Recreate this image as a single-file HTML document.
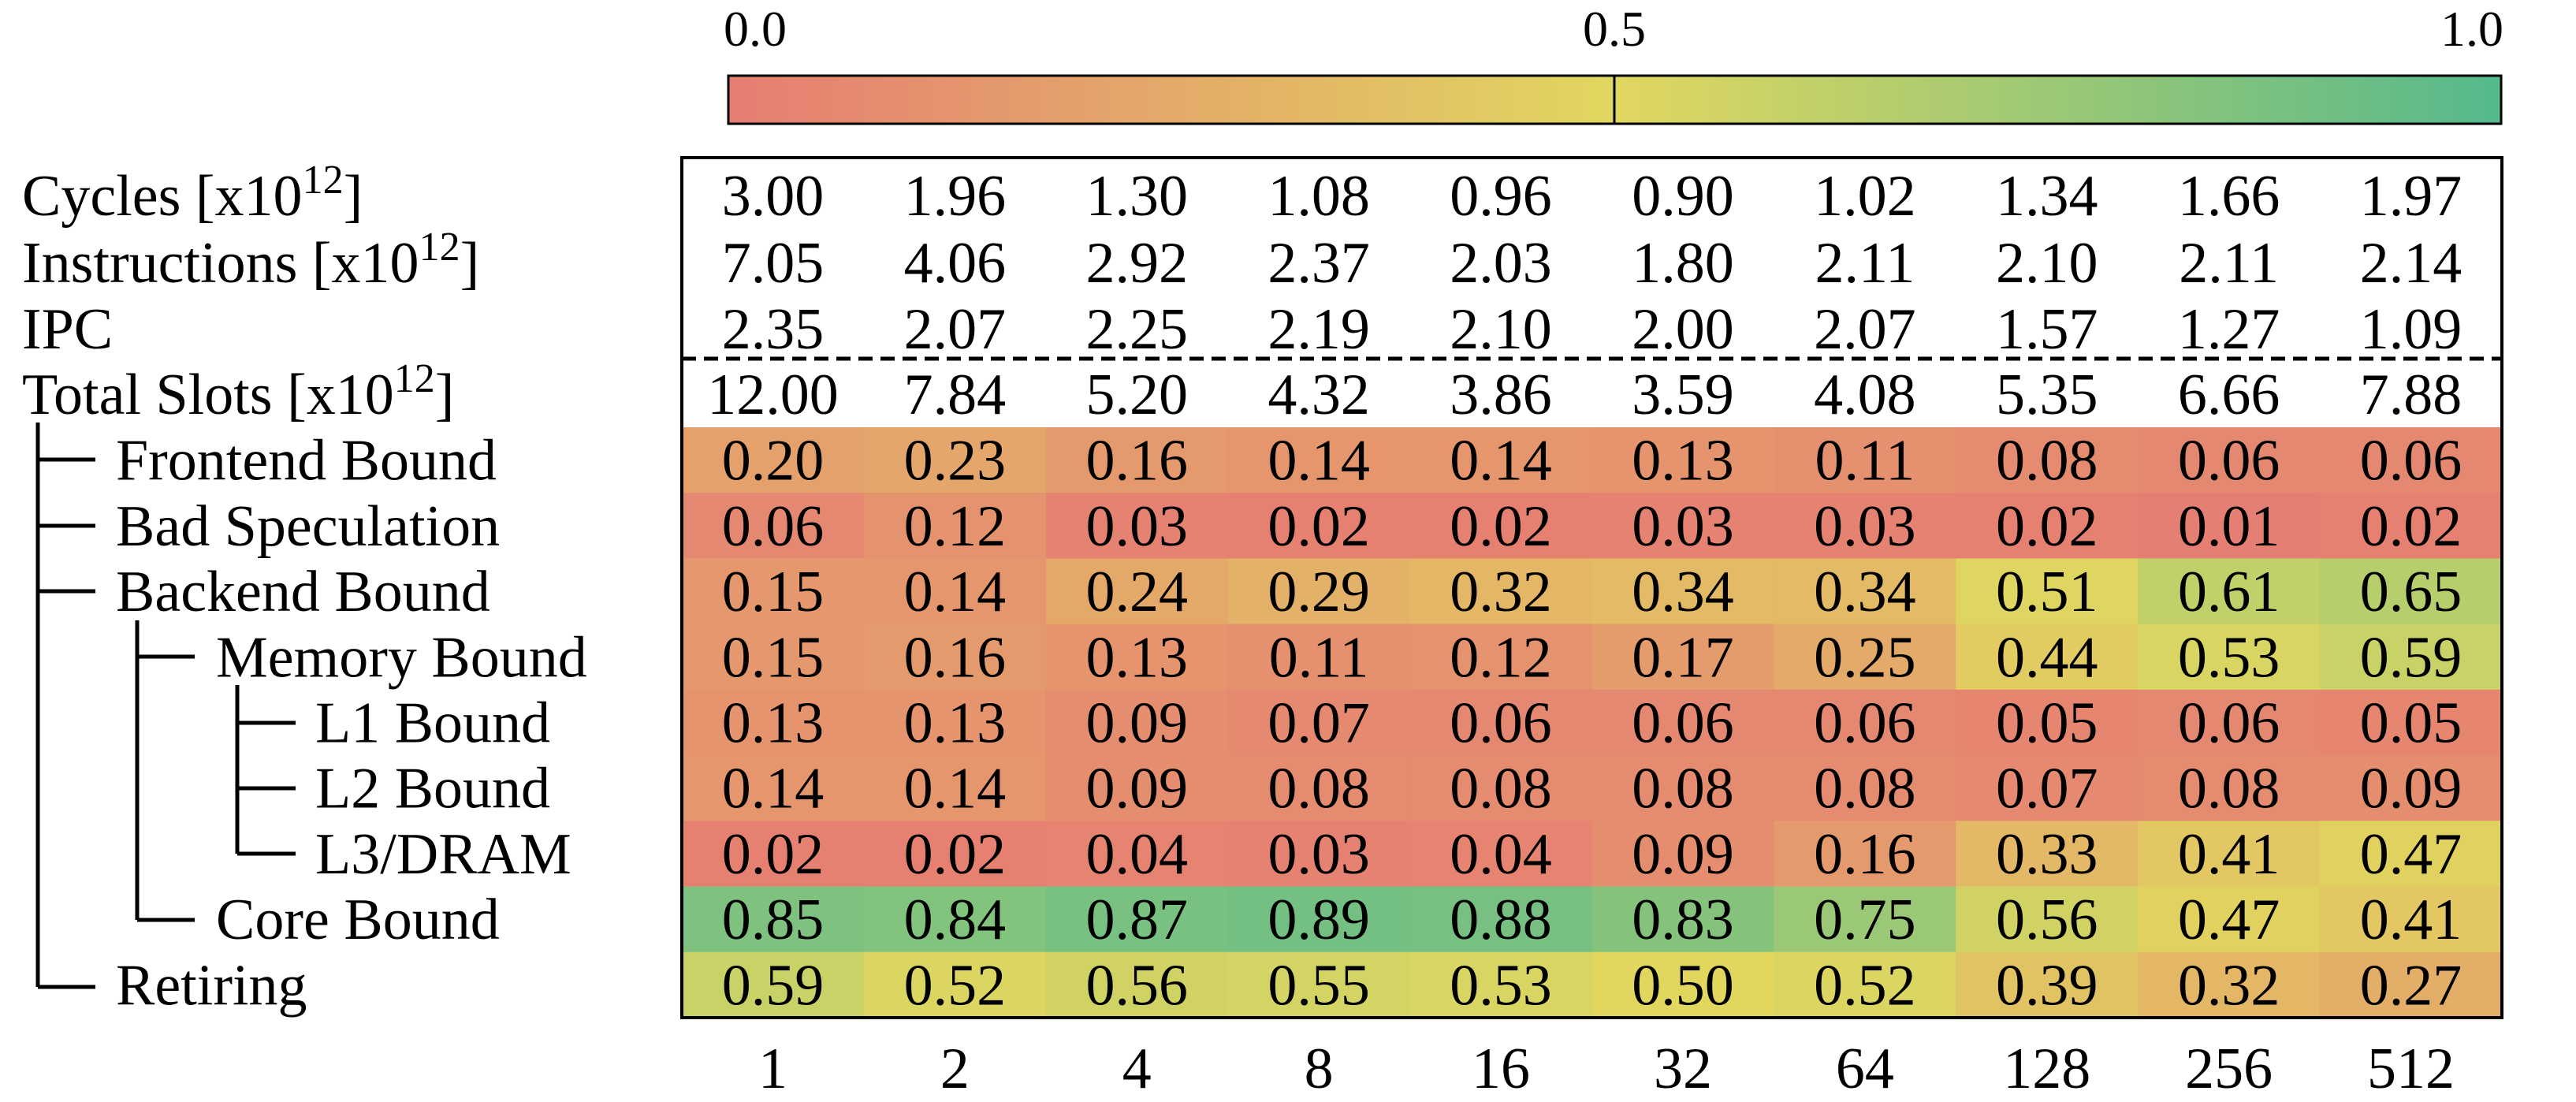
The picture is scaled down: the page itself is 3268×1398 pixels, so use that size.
<!DOCTYPE html>
<html><head><meta charset="utf-8"><style>
html,body{margin:0;padding:0;background:#fff}
svg{display:block}
text{font-family:"Liberation Serif","DejaVu Serif",serif;fill:#000}
</style></head><body>
<svg id="chart" width="3268" height="1398" viewBox="0 0 3268 1398" xmlns="http://www.w3.org/2000/svg">
<defs>
<linearGradient id="cbgrad" x1="0" x2="1" y1="0" y2="0">
<stop offset="0" stop-color="rgb(230,125,115)"/>
<stop offset="0.5" stop-color="rgb(225,215,95)"/>
<stop offset="1" stop-color="rgb(85,185,140)"/>
</linearGradient>
</defs>
<g>
<rect x="924" y="96" width="2249" height="61" fill="url(#cbgrad)" stroke="#000" stroke-width="3"/>
<line x1="2048" y1="96" x2="2048" y2="157" stroke="#000" stroke-width="3"/>
<text x="958" y="58" font-size="64" text-anchor="middle">0.0</text>
<text x="2048" y="58" font-size="64" text-anchor="middle">0.5</text>
<text x="3136" y="58" font-size="64" text-anchor="middle">1.0</text>
</g>
<g id="cells"></g>
<g id="texts"></g>
<g id="labels"></g>
<g stroke="#000" stroke-width="5" fill="none">
<path d="M48 536 V1252 M48 583 H121 M48 667 H121 M48 750 H121 M48 1252 H121"/>
<path d="M174 787 V1167 M174 833 H247 M174 1167 H247"/>
<path d="M301 869 V1083 M301 917 H375 M301 1000 H375 M301 1083 H375"/>
</g>
<line x1="865" y1="455" x2="3174" y2="455" stroke="#000" stroke-width="5" stroke-dasharray="18,10"/>
<rect x="865" y="200" width="2309" height="1091" fill="none" stroke="#000" stroke-width="4"/>
</svg>
<script>
const threads = ["1","2","4","8","16","32","64","128","256","512"];
const cycles = [3.00,1.96,1.30,1.08,0.96,0.90,1.02,1.34,1.66,1.97];
const instructions = [7.05,4.06,2.92,2.37,2.03,1.80,2.11,2.10,2.11,2.14];
const ipc = [2.35,2.07,2.25,2.19,2.10,2.00,2.07,1.57,1.27,1.09];
const totalSlots = [12.00,7.84,5.20,4.32,3.86,3.59,4.08,5.35,6.66,7.88];
const frontendBound = [0.20,0.23,0.16,0.14,0.14,0.13,0.11,0.08,0.06,0.06];
const badSpeculation = [0.06,0.12,0.03,0.02,0.02,0.03,0.03,0.02,0.01,0.02];
const backendBound = [0.15,0.14,0.24,0.29,0.32,0.34,0.34,0.51,0.61,0.65];
const memoryBound = [0.15,0.16,0.13,0.11,0.12,0.17,0.25,0.44,0.53,0.59];
const l1Bound = [0.13,0.13,0.09,0.07,0.06,0.06,0.06,0.05,0.06,0.05];
const l2Bound = [0.14,0.14,0.09,0.08,0.08,0.08,0.08,0.07,0.08,0.09];
const l3Dram = [0.02,0.02,0.04,0.03,0.04,0.09,0.16,0.33,0.41,0.47];
const coreBound = [0.85,0.84,0.87,0.89,0.88,0.83,0.75,0.56,0.47,0.41];
const retiring = [0.59,0.52,0.56,0.55,0.53,0.50,0.52,0.39,0.32,0.27];
const plainRowLabels = ["Cycles","Instructions","IPC","Total Slots"];
const heatRowLabels = ["Frontend Bound","Bad Speculation","Backend Bound","Memory Bound","L1 Bound","L2 Bound","L3/DRAM","Core Bound","Retiring"];

const NS="http://www.w3.org/2000/svg";
const X0=865, X1=3174, HEAT_Y0=542, HEAT_Y1=1291;
const colW=(X1-X0)/threads.length;
const plainRows=[cycles,instructions,ipc,totalSlots];
const heatRows=[frontendBound,badSpeculation,backendBound,memoryBound,l1Bound,l2Bound,l3Dram,coreBound,retiring];
const rowH=(HEAT_Y1-HEAT_Y0)/heatRows.length;
const plainCenters=[248,333,417,500];
const xCenter=i=>X0+colW*(i+0.5);
const yHeat=r=>HEAT_Y0+rowH*r;
const indent=[147,147,147,274,400,400,400,274,147];
function color(v){
  const a=[230,125,115],b=[225,215,95],c=[85,185,140];
  let p,q,t;
  if(v<=0.5){p=a;q=b;t=v/0.5;}else{p=b;q=c;t=(v-0.5)/0.5;}
  return "rgb("+p.map((x,k)=>Math.round(x+(q[k]-x)*t)).join(",")+")";
}
function mk(tag,attrs,parent){const e=document.createElementNS(NS,tag);for(const k in attrs)e.setAttribute(k,attrs[k]);parent.appendChild(e);return e;}
const cellsG=document.getElementById("cells"), textsG=document.getElementById("texts"), labelsG=document.getElementById("labels");
heatRows.forEach((row,r)=>{
  row.forEach((v,i)=>{
    const rc=mk("rect",{x:X0+colW*i,y:yHeat(r),width:colW+0.6,height:rowH+0.6,fill:color(v)},cellsG);
    
    
    const t=mk("text",{x:xCenter(i),y:yHeat(r)+rowH/2+25,"font-size":74,"text-anchor":"middle"},textsG);
    
    
    t.textContent=v.toFixed(2);
  });
  const l=mk("text",{x:indent[r],y:yHeat(r)+rowH/2+25,"font-size":74},labelsG);
  
  
  l.textContent=heatRowLabels[r];
});
plainRows.forEach((row,r)=>{
  row.forEach((v,i)=>{
    const t=mk("text",{x:xCenter(i),y:plainCenters[r]+25,"font-size":74,"text-anchor":"middle"},textsG);
    
    
    t.textContent=v.toFixed(2);
  });
  const l=mk("text",{x:28,y:plainCenters[r]+25,"font-size":74},labelsG);
  
  
  l.textContent=plainRowLabels[r];
  if(r!==2){
    const ts=mk("tspan",{},l);ts.textContent=" [x10";
    const sup=mk("tspan",{dy:-28,"font-size":52},l);sup.textContent="12";
    const cl=mk("tspan",{dy:28},l);cl.textContent="]";
  }
});
threads.forEach((th,i)=>{
  const t=mk("text",{x:xCenter(i),y:1380,"font-size":74,"text-anchor":"middle"},labelsG);
  
  
  t.textContent=th;
});
</script>
</body></html>
